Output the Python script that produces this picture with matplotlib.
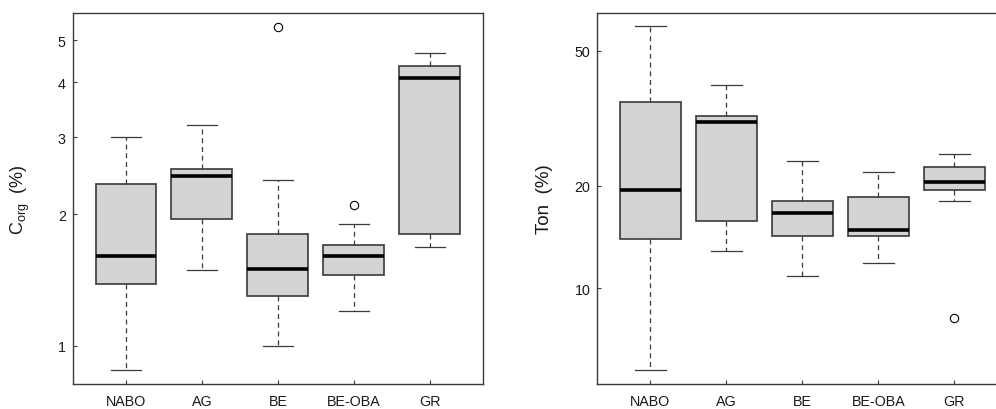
import numpy as np
import matplotlib; matplotlib.use("Agg")
import matplotlib.pyplot as plt
from matplotlib.ticker import FixedLocator, NullLocator, FixedFormatter

plt.rcParams["font.family"] = ["Liberation Sans", "DejaVu Sans"]
plt.rcParams["mathtext.fontset"] = "custom"
plt.rcParams["mathtext.rm"] = "Liberation Sans"
plt.rcParams["mathtext.it"] = "Liberation Sans"

groups = ["NABO", "AG", "BE", "BE-OBA", "GR"]

# C_org (%) box statistics
corg_whislo = [0.88, 1.49, 1.00, 1.20, 1.685]
corg_q1 = [1.384, 1.945, 1.30, 1.451, 1.80]
corg_med = [1.607, 2.44, 1.497, 1.60, 4.10]
corg_q3 = [2.34, 2.53, 1.80, 1.70, 4.36]
corg_whishi = [3.00, 3.20, 2.39, 1.896, 4.67]
corg_fliers = [[], [], [5.37], [2.10], []]

# Ton (%) box statistics
ton_whislo = [5.76, 12.9, 10.9, 11.9, 18.1]
ton_q1 = [14.0, 15.8, 14.2, 14.2, 19.5]
ton_med = [19.4, 30.9, 16.6, 14.8, 20.6]
ton_q3 = [35.4, 32.2, 18.0, 18.6, 22.8]
ton_whishi = [58.9, 39.5, 23.6, 22.0, 24.8]
ton_fliers = [[], [], [], [], [8.18]]

EDGE = "#3a3a3a"


def stats(lo, q1, med, q3, hi, fl):
    return [dict(whislo=a, q1=b, med=c, q3=d, whishi=e, fliers=f, label=g)
            for a, b, c, d, e, f, g in zip(lo, q1, med, q3, hi, fl, groups)]


def panel(ax, st, yticks, ylim, ylabel, lsize):
    ax.set_yscale("log")
    ax.bxp(st, positions=range(1, 6), widths=0.8, capwidths=0.4, patch_artist=True,
           boxprops=dict(facecolor="#d3d3d3", edgecolor=EDGE, linewidth=1.2),
           medianprops=dict(color="black", linewidth=2.6, solid_capstyle="butt"),
           whiskerprops=dict(color=EDGE, linewidth=0.9, linestyle=(0, (4, 3))),
           capprops=dict(color=EDGE, linewidth=0.9),
           flierprops=dict(marker="o", markersize=6, markerfacecolor="none",
                           markeredgecolor="black", markeredgewidth=0.8))
    ax.set_xlim(0.3, 5.7); ax.set_ylim(*ylim)
    ax.yaxis.set_major_locator(FixedLocator(yticks))
    ax.yaxis.set_major_formatter(FixedFormatter([str(t) for t in yticks]))
    ax.yaxis.set_minor_locator(NullLocator())
    ax.set_xticks(range(1, 6)); ax.set_xticklabels(groups)
    ax.tick_params(axis="both", direction="in", length=3, width=0.8, color=EDGE,
                   labelsize=10.3, labelcolor="#1a1a1a")
    ax.tick_params(axis="x", pad=7); ax.tick_params(axis="y", pad=5)
    for s in ax.spines.values():
        s.set_color(EDGE); s.set_linewidth(1.0)
    ax.text(-0.128, 0.5, ylabel, transform=ax.transAxes, rotation=90, ha="center",
            va="center", fontsize=lsize, color="#1a1a1a")


fig = plt.figure(figsize=(9.96, 4.10), dpi=100)
ax1 = fig.add_axes([0.073, 0.061, 0.412, 0.905])
ax2 = fig.add_axes([0.5997, 0.061, 0.412, 0.905])
panel(ax1, stats(corg_whislo, corg_q1, corg_med, corg_q3, corg_whishi, corg_fliers),
      [1, 2, 3, 4, 5], (0.817, 5.77), r"C$_{\mathrm{org}}$  (%)", 13)
panel(ax2, stats(ton_whislo, ton_q1, ton_med, ton_q3, ton_whishi, ton_fliers),
      [10, 20, 50], (5.23, 64.5), "Ton  (%)", 13.5)
fig.savefig("out.png", dpi=100)
